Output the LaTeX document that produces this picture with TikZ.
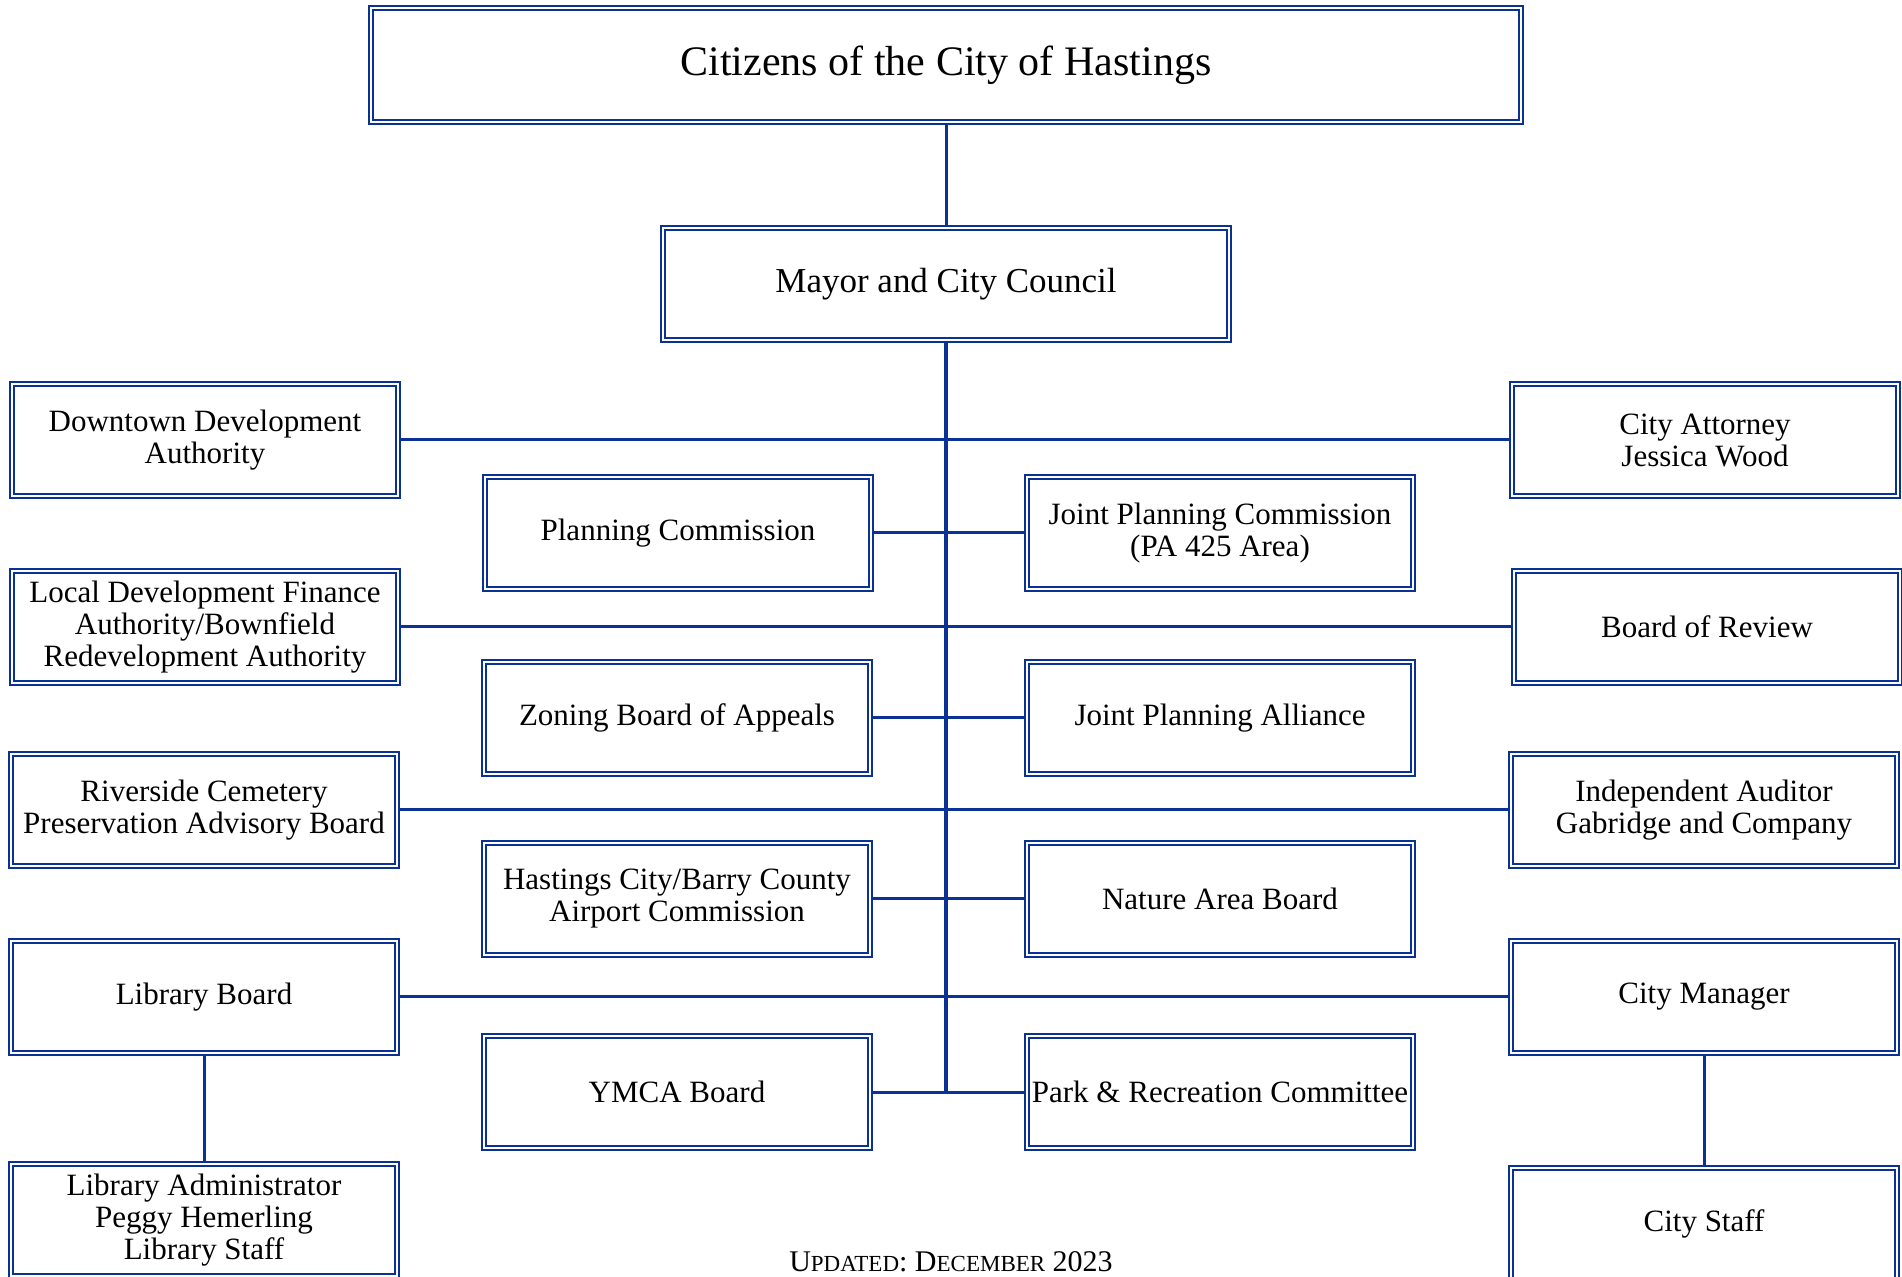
\documentclass[tikz,border=0pt]{standalone}
\usepackage{fontspec}
\setmainfont{Liberation Serif}
\definecolor{hblue}{RGB}{10,50,150}

\begin{document}
\begin{tikzpicture}
				[x=0.5pt,y=-0.5pt,every node/.style={rectangle,draw=hblue,double=white,double distance=1.1pt,line width=0.8pt,align=center,inner sep=0pt,font=\fontsize{15.5}{16}\selectfont,minimum width=193pt,minimum height=56pt}]
				\useasboundingbox (0,0) rectangle (1902,1277);
				
				\node (cit) at (946,65) [minimum width=575pt,minimum height=57pt,font=\fontsize{21}{24}\selectfont] {Citizens of the City of Hastings};
				\node (may) at (946,284) [minimum width=283pt,font=\fontsize{17.5}{20}\selectfont] {Mayor and City Council};
				
				\node (dda) at (205,440)  {Downtown Development\\Authority};
				\node (ldfa) at (205,627) {Local Development Finance\\Authority/Bownfield\\Redevelopment Authority};
				\node (rcp) at (204,810)  {Riverside Cemetery\\Preservation Advisory Board};
				\node (lib) at (204,997)  {Library Board};
				\node (lad) at (204,1220) {Library Administrator\\Peggy Hemerling\\Library Staff};
				
				\node (att) at (1705,440) {City Attorney\\Jessica Wood};
				\node (bor) at (1707,627) {Board of Review};
				\node (aud) at (1704,810) {Independent Auditor\\Gabridge and Company};
				\node (cm) at (1704,997)  {City Manager};
				\node (cs) at (1704,1224) {City Staff};
				
				\node (pc) at (678,533)   {Planning Commission};
				\node (zba) at (677,718)  {Zoning Board of Appeals};
				\node (air) at (677,899)  {Hastings City/Barry County\\Airport Commission};
				\node (ymca) at (677,1092) {YMCA Board};
				
				\node (jpc) at (1220,533) {Joint Planning Commission\\(PA 425 Area)};
				\node (jpa) at (1220,718) {Joint Planning Alliance};
				\node (nab) at (1220,899) {Nature Area Board};
				\node (prc) at (1220,1092) {Park \& Recreation Committee};
				
				\coordinate (bot) at (946,1092);
				\node (upd) at (951,1262) [draw=none,minimum width=0pt,minimum height=0pt,font=\fontsize{15}{16}\selectfont] {U{\fontsize{11.5}{12}\selectfont PDATED}: D{\fontsize{11.5}{12}\selectfont ECEMBER} 2023};
				
				\draw[hblue,line width=2pt] (may) -- (bot);
				\foreach \from/\to in {cit/may,dda/att,ldfa/bor,rcp/aud,lib/cm,pc/jpc,zba/jpa,air/nab,ymca/prc,lib/lad,cm/cs}
				\draw[hblue,line width=1.5pt] (\from) -- (\to);
				
				\end{tikzpicture}
\end{document}
